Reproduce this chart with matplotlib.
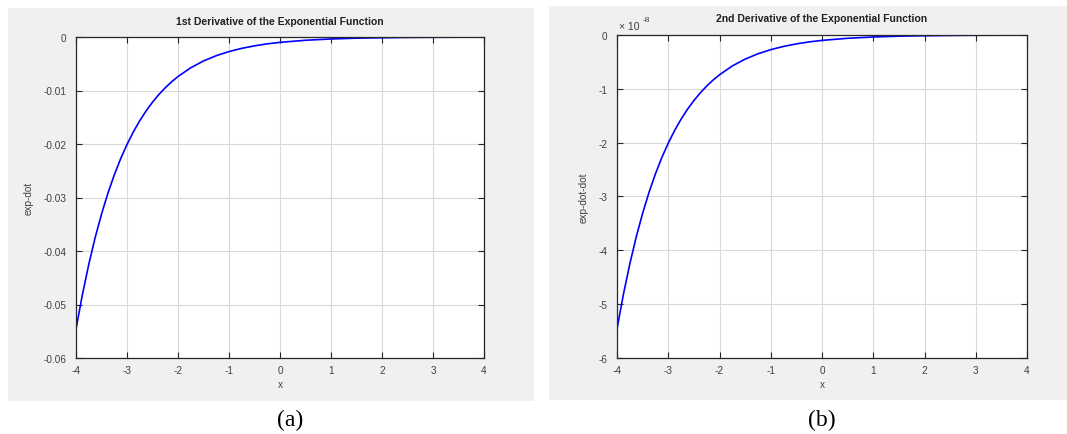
import matplotlib
matplotlib.use("Agg")
import matplotlib.pyplot as plt
from matplotlib.patches import Rectangle

# ---- data ----
x_vals = [-4.0, -3.875, -3.75, -3.625, -3.5, -3.375, -3.25, -3.125, -3.0,
          -2.875, -2.75, -2.625, -2.5, -2.375, -2.25, -2.125, -2.0,
          -1.75, -1.5, -1.25, -1.0, -0.75, -0.5, -0.25, 0.0,
          0.5, 1.0, 1.5, 2.0, 2.5, 3.0, 3.5, 4.0]
# 1st derivative (units of 1e-3, negative)
d1_milli = [54.60, 48.18, 42.52, 37.52, 33.12, 29.22, 25.79, 22.76, 20.09,
            17.73, 15.64, 13.80, 12.18, 10.75, 9.49, 8.37, 7.39,
            5.75, 4.48, 3.49, 2.72, 2.12, 1.65, 1.28, 1.00,
            0.61, 0.37, 0.22, 0.14, 0.08, 0.05, 0.03, 0.02]
# 2nd derivative (units of 1e-8, negative)
d2_e8 = [5.460, 4.818, 4.252, 3.752, 3.312, 2.922, 2.579, 2.276, 2.009,
         1.773, 1.564, 1.380, 1.218, 1.075, 0.949, 0.837, 0.739,
         0.575, 0.448, 0.349, 0.272, 0.212, 0.165, 0.128, 0.100,
         0.061, 0.037, 0.022, 0.014, 0.008, 0.005, 0.003, 0.002]

x_ticks = [-4, -3, -2, -1, 0, 1, 2, 3, 4]
y1_ticks = [-0.06, -0.05, -0.04, -0.03, -0.02, -0.01, 0]
y1_ticklabels = ["-0.06", "-0.05", "-0.04", "-0.03", "-0.02", "-0.01", "0"]
y2_ticks_e8 = [-6, -5, -4, -3, -2, -1, 0]

titles = ["1st Derivative of the Exponential Function",
          "2nd Derivative of the Exponential Function"]
ylabels = ["exp-dot", "exp-dot-dot"]
captions = ["(a)", "(b)"]

plt.rcParams['font.family'] = ['Liberation Sans', 'DejaVu Sans']
plt.rcParams['axes.unicode_minus'] = False

W, H = 1067, 435
fig = plt.figure(figsize=(W / 100, H / 100), dpi=100)
fig.patch.set_facecolor("white")

def px_rect(x0, y0, x1, y1):
    return (x0 / W, 1 - y1 / H, (x1 - x0) / W, (y1 - y0) / H)

# gray panel backgrounds
for (x0, y0, x1, y1) in [(8, 9, 534, 402), (549, 7, 1067, 401)]:
    l, b, w, h = px_rect(x0, y0, x1, y1)
    fig.patches.append(Rectangle((l, b), w, h, transform=fig.transFigure,
                                 facecolor="#f0f0f0", edgecolor="none", zorder=-5))

axA = fig.add_axes(px_rect(76, 38, 484, 359))
axB = fig.add_axes(px_rect(617, 36, 1027, 359))

tick_col = "#404040"
spine_col = "#262626"

def style(ax):
    ax.set_facecolor("white")
    ax.set_xlim(-4, 4)
    ax.set_xticks(x_ticks)
    ax.set_xticklabels([str(t) for t in x_ticks])
    ax.grid(True, color="#d9d9d9", linewidth=0.8)
    ax.set_axisbelow(True)
    ax.tick_params(direction="in", length=4, width=0.8, top=True, right=True,
                   labelsize=7.2, colors=spine_col, labelcolor=tick_col)
    ax.tick_params(axis="y", pad=7)
    ax.tick_params(axis="x", pad=5)
    for s in ax.spines.values():
        s.set_color(spine_col)
        s.set_linewidth(0.9)
    ax.set_xlabel("x", fontsize=7.2, color=tick_col, labelpad=3)

# panel (a)
y1 = [-v * 1e-3 for v in d1_milli]
axA.plot(x_vals, y1, color="#0000ff", linewidth=1.2)
style(axA)
axA.set_ylim(-0.06, 0)
axA.set_yticks(y1_ticks)
axA.set_yticklabels(y1_ticklabels)
axA.set_ylabel(ylabels[0], fontsize=7.2, color=tick_col, labelpad=7)
axA.set_title(titles[0], fontsize=7.5, fontweight="bold", color="#202020", pad=9)

# panel (b)
y2 = [-v * 1e-8 for v in d2_e8]
axB.plot(x_vals, y2, color="#0000ff", linewidth=1.2)
style(axB)
axB.set_ylim(-6e-8, 0)
axB.set_yticks([t * 1e-8 for t in y2_ticks_e8])
axB.set_yticklabels([str(t) for t in y2_ticks_e8])
axB.set_ylabel(ylabels[1], fontsize=7.2, color=tick_col, labelpad=7)
axB.set_title(titles[1], fontsize=7.5, fontweight="bold", color="#202020", pad=10)
# MATLAB-style exponent label
fig.text(619 / W, 1 - 27 / H, "\u00d7 10", fontsize=7.5, color=tick_col,
         ha="left", va="center")
fig.text(643 / W, 1 - 20 / H, "-8", fontsize=6, color=tick_col,
         ha="left", va="center")

# captions
for cx, cap in [(290, captions[0]), (822, captions[1])]:
    fig.text(cx / W, 1 - 420 / H, cap, fontsize=17, family="Liberation Serif",
             ha="center", va="center", color="black")

fig.savefig("out.png", dpi=100, facecolor="white")
